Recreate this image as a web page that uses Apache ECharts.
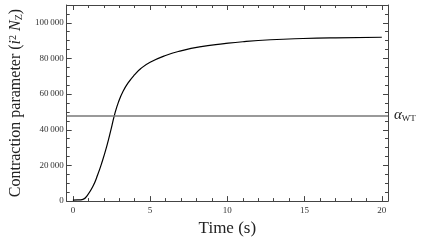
<!DOCTYPE html>
<html>
<head>
<meta charset="utf-8">
<script src="https://cdn.jsdelivr.net/npm/echarts@6/dist/echarts.min.js"></script>
<style>
  html, body { margin: 0; padding: 0; background: #fff; }
  #chart { width: 432px; height: 242px; }
</style>
</head>
<body>
<div id="chart"></div>
<script>
// curve
var times = [0, 0.3, 0.65, 0.95, 1.3, 1.6, 1.9, 2.2, 2.45, 2.7, 2.95, 3.25, 3.6, 4.0, 4.4, 5.0, 6.0, 7.0, 8.2, 9.8, 11, 12.8, 14.9, 17, 20];
var contraction = [600, 650, 1000, 3400, 8300, 14600, 22200, 31000, 39500, 48500, 55500, 61600, 66600, 70900, 74400, 77900, 81700, 84300, 86500, 88300, 89400, 90500, 91200, 91600, 91900];
var alphaWT = 48000;

var xMajor = [0, 5, 10, 15, 20];
var xMinor = [1, 2, 3, 4, 6, 7, 8, 9, 11, 12, 13, 14, 16, 17, 18, 19];
var yMajor = [0, 20000, 40000, 60000, 80000, 100000];
var yMinor = [5000, 10000, 15000, 25000, 30000, 35000, 45000, 50000, 55000, 65000, 70000, 75000, 85000, 90000, 95000, 105000];

var serif = 'Liberation Serif';
var frameColor = '#444';

function thinSpace(v) {
    return String(v).replace(/\B(?=(\d{3})+(?!\d))/g, '\u2009');
}

function tickAxis(pos, min, max, values, len, showLine) {
    return {
        type: 'value', position: pos, min: min, max: max,
        axisLine: { show: showLine, onZero: false, lineStyle: { color: frameColor, width: 1 } },
        axisTick: { show: true, inside: true, length: len, customValues: values, lineStyle: { color: frameColor } },
        axisLabel: { show: false },
        splitLine: { show: false }
    };
}

var pts = [];
for (var i = 0; i < times.length; i++) {
    pts.push([times[i], contraction[i]]);
}

var chart = echarts.init(document.getElementById('chart'));

var xBottom = tickAxis('bottom', -0.4, 20.4, xMajor, 5, true);
xBottom.axisLabel = { show: true, customValues: xMajor, margin: 5, fontFamily: serif, fontSize: 9, color: '#333' };
xBottom.name = 'Time (s)';
xBottom.nameLocation = 'middle';
xBottom.nameGap = 11;
xBottom.nameTextStyle = { fontFamily: serif, fontSize: 17, color: '#222' };

var yLeft = tickAxis('left', 0, 110000, yMajor, 5, true);
yLeft.axisLabel = { show: true, customValues: yMajor, margin: 3, fontFamily: serif, fontSize: 9, color: '#333', formatter: thinSpace };
yLeft.name = 'Contraction parameter ({it|i}{sup|2} {it|N}{sub|Z})';
yLeft.nameLocation = 'middle';
yLeft.nameGap = 34;
yLeft.nameTextStyle = {
    fontFamily: serif, fontSize: 16, color: '#222',
    rich: {
        it: { fontFamily: serif, fontSize: 16, fontStyle: 'italic', color: '#222' },
        sup: { fontFamily: serif, fontSize: 10, color: '#222', verticalAlign: 'top' },
        sub: { fontFamily: serif, fontSize: 10, color: '#222', verticalAlign: 'bottom' }
    }
};

chart.setOption({
    animation: false,
    grid: { left: 56, top: 5, right: 44, bottom: 32 },
    xAxis: [
        xBottom,
        tickAxis('bottom', -0.4, 20.4, xMinor, 3, false),
        tickAxis('top', -0.4, 20.4, xMajor, 5, true),
        tickAxis('top', -0.4, 20.4, xMinor, 3, false)
    ],
    yAxis: [
        yLeft,
        tickAxis('left', 0, 110000, yMinor, 3, false),
        tickAxis('right', 0, 110000, yMajor, 5, true),
        tickAxis('right', 0, 110000, yMinor, 3, false)
    ],
    series: [{
        type: 'line',
        xAxisIndex: 0,
        yAxisIndex: 0,
        data: pts,
        smooth: 0.5,
        symbol: 'none',
        lineStyle: { color: '#000', width: 1.2 },
        markLine: {
            silent: true,
            symbol: 'none',
            lineStyle: { color: '#777', width: 1.6, type: 'solid' },
            label: {
                position: 'end',
                distance: 6,
                formatter: '{a|α}{s|WT}',
                rich: {
                    a: { fontFamily: serif, fontSize: 15, fontStyle: 'italic', color: '#222' },
                    s: { fontFamily: serif, fontSize: 9, color: '#222', verticalAlign: 'bottom', padding: [6, 0, 0, 0] }
                }
            },
            data: [{ yAxis: alphaWT }]
        }
    }]
});
</script>
</body>
</html>
